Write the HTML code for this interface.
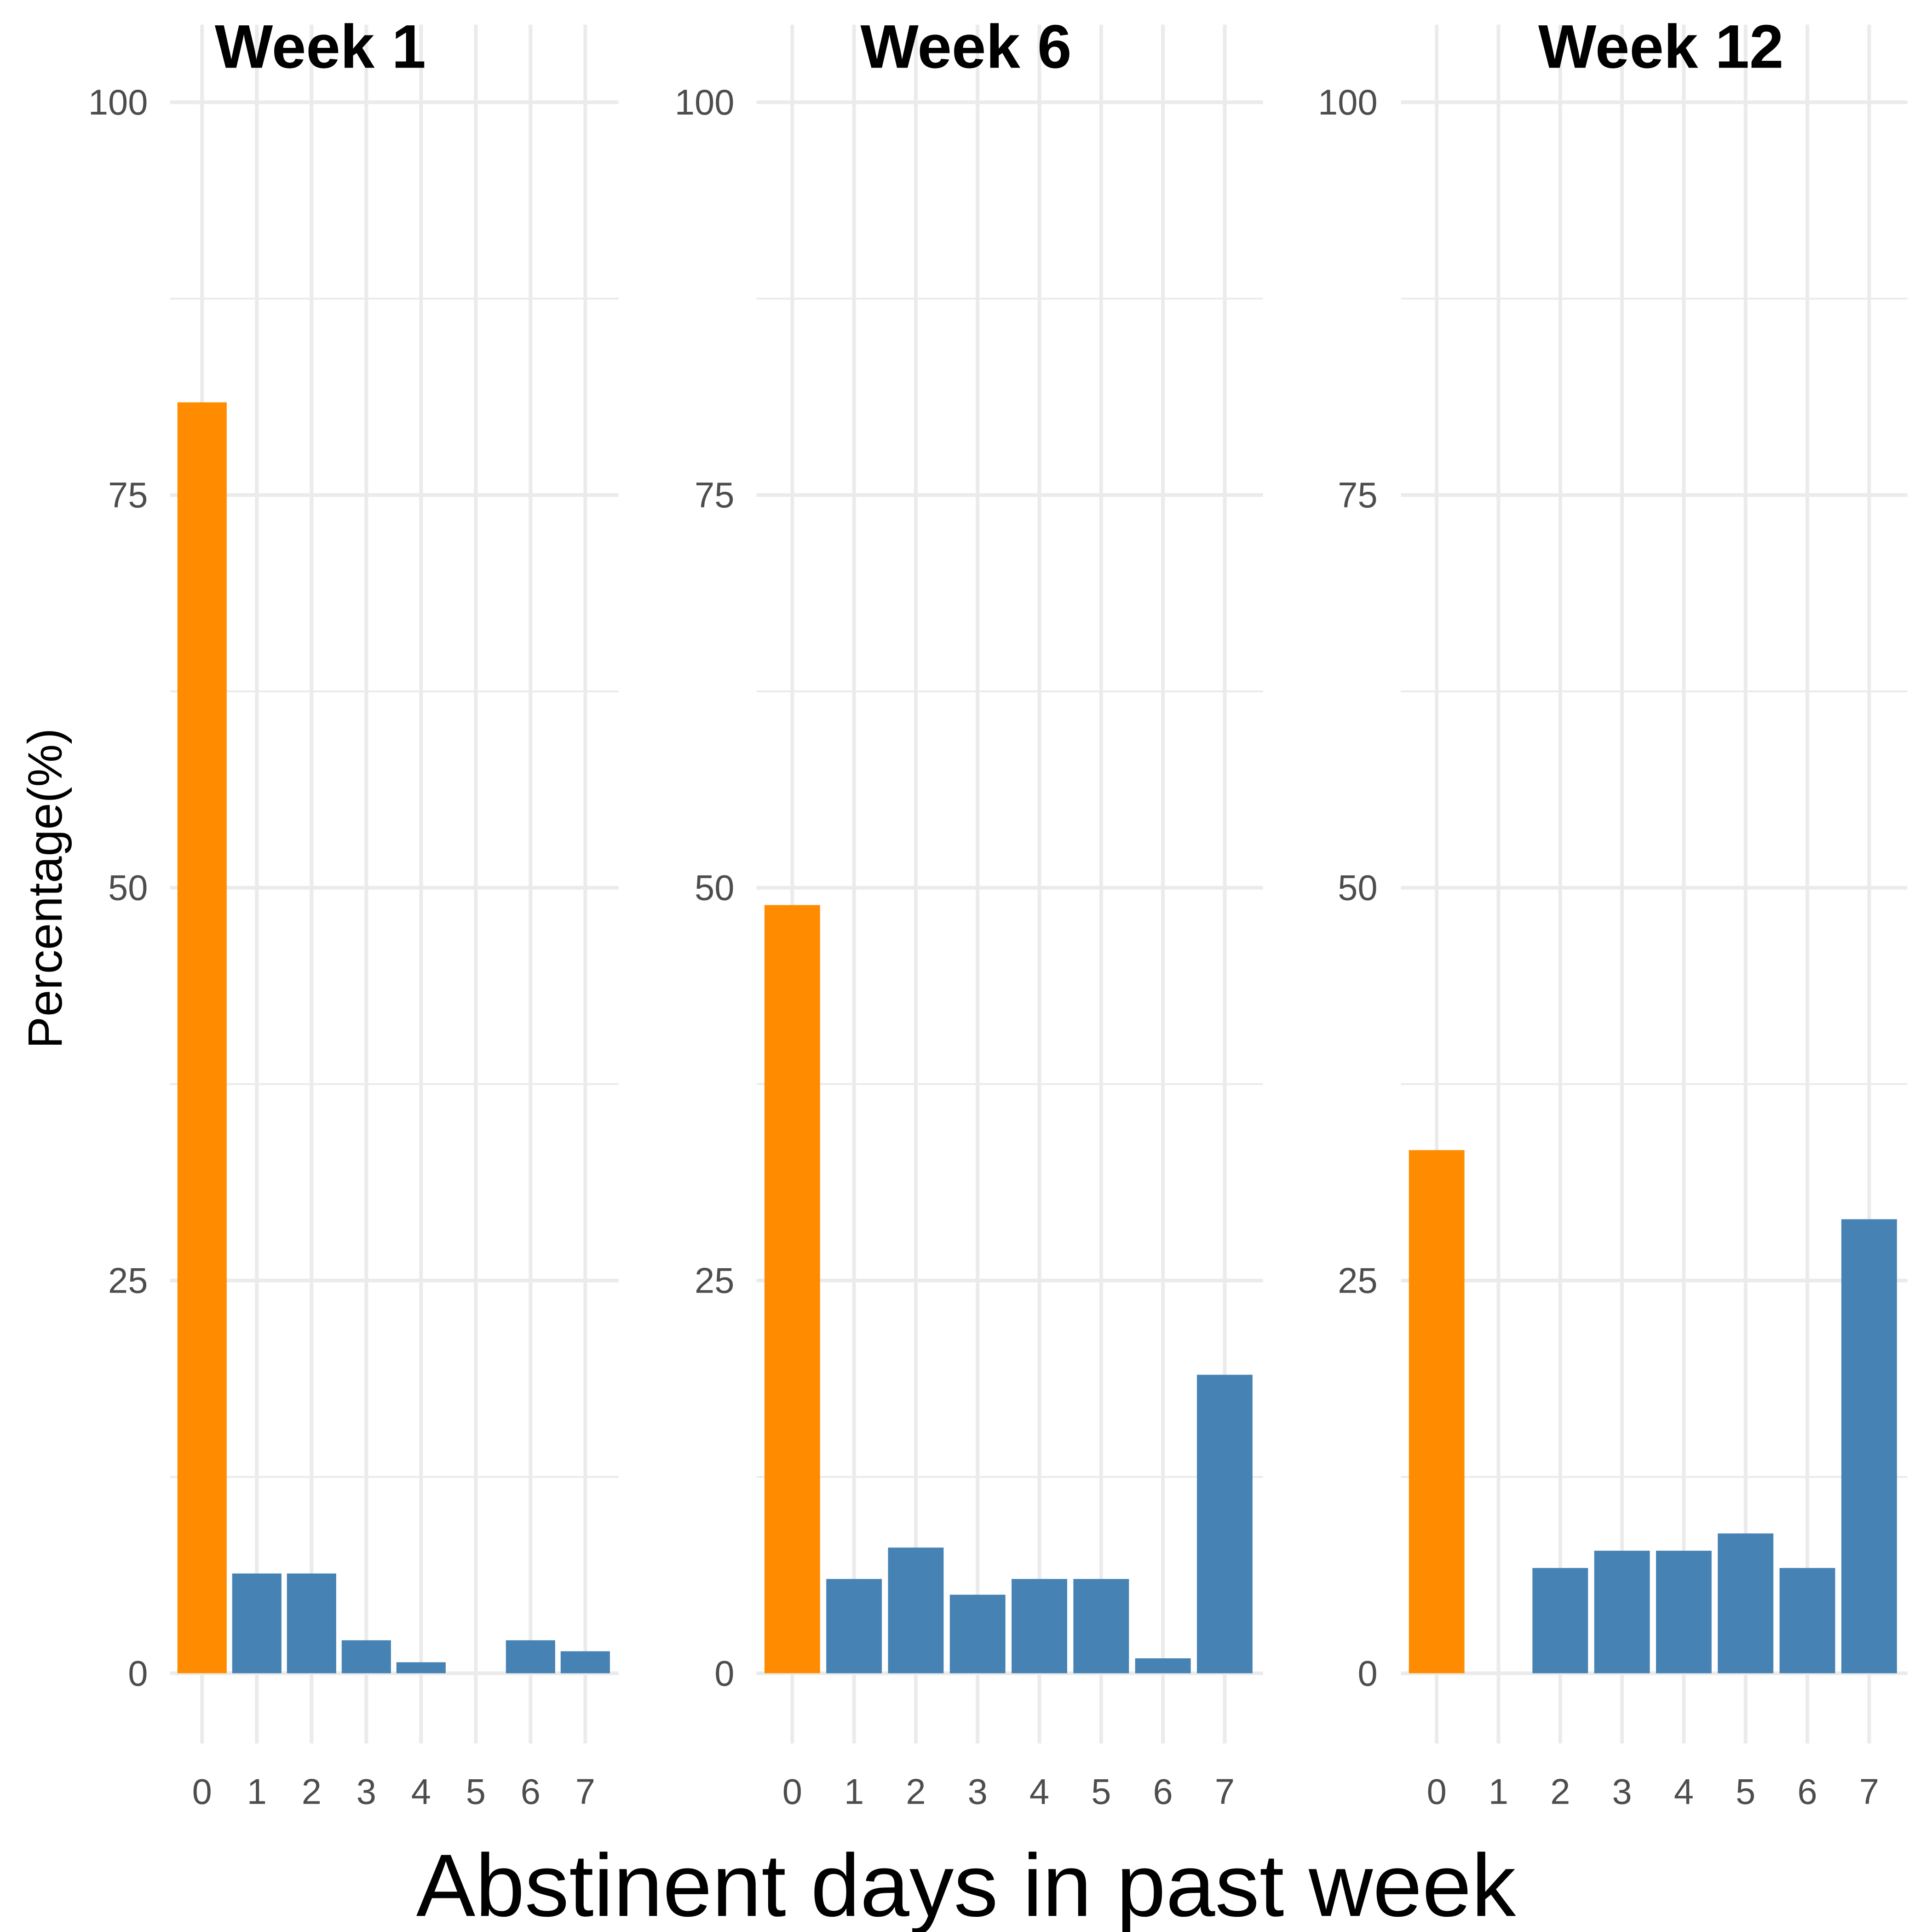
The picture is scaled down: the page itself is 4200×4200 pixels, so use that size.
<!DOCTYPE html>
<html><head><meta charset="utf-8"><style>
html,body{margin:0;padding:0;background:#fff}
svg{display:block}
text{font-family:"Liberation Sans",Arial,sans-serif}
</style></head><body>
<svg id="chart" width="4200" height="4200" viewBox="0 0 1568 1568" xmlns="http://www.w3.org/2000/svg">
<text x="50" y="721" font-size="39" text-anchor="middle" fill="#000" transform="rotate(-90 50 721)">Percentage(%)</text>
<text x="784" y="1555" font-size="72" text-anchor="middle" fill="#000">Abstinent days in past week</text>
<g id="panels"></g>
</svg>
<script>
const categories = [0,1,2,3,4,5,6,7];
const panelTitles = ["Week 1","Week 6","Week 12"];
const week1Values = [80.9,6.35,6.35,2.1,0.7,0,2.1,1.4];
const week6Values = [48.9,6.0,8.0,5.0,6.0,6.0,0.95,19.0];
const week12Values = [33.3,0,6.7,7.8,7.8,8.9,6.7,28.9];
const yTicks = [0,25,50,75,100];
const yMinor = [12.5,37.5,62.5,87.5];

const seriesList = [week1Values, week6Values, week12Values];
const layout = [
  {x0:138, x1:502, c0:164, step:44.43, lab:120, tx:260},
  {x0:614, x1:1025, c0:643, step:50.14, lab:596, tx:784},
  {x0:1137, x1:1548, c0:1166, step:50.14, lab:1118, tx:1348}
];
const yTop = 20, yBot = 1415;
function yScale(v){ return 1358 - v*12.75; }
const NS = "http://www.w3.org/2000/svg";
const root = document.getElementById('panels');
function mk(tag, attrs, parent){
  const e = document.createElementNS(NS, tag);
  for (const k in attrs) e.setAttribute(k, attrs[k]);
  parent.appendChild(e);
  return e;
}
seriesList.forEach((vals, p) => {
  const L = layout[p];
  const xScale = c => L.c0 + categories.indexOf(c)*L.step;
  const g = mk('g', {}, root);
  
  
  yMinor.forEach(t => {
    const l = mk('line', {x1:L.x0, x2:L.x1, y1:yScale(t), y2:yScale(t), stroke:'#ebebeb', 'stroke-width':1.5}, g);
    
    
  });
  yTicks.forEach(t => {
    const l = mk('line', {x1:L.x0, x2:L.x1, y1:yScale(t), y2:yScale(t), stroke:'#ebebeb', 'stroke-width':3}, g);
    
    
    const tx = mk('text', {x:L.lab, y:yScale(t)+10, 'font-size':29, 'text-anchor':'end', fill:'#4d4d4d'}, g);
    tx.textContent = t;
    
    
  });
  categories.forEach(c => {
    const x = xScale(c);
    const l = mk('line', {x1:x, x2:x, y1:yTop, y2:yBot, stroke:'#ebebeb', 'stroke-width':3}, g);
    
    
    const tx = mk('text', {x:x, y:1464, 'font-size':29, 'text-anchor':'middle', fill:'#4d4d4d'}, g);
    tx.textContent = c;
    
    
  });
  categories.forEach((c, i) => {
    const v = vals[i];
    if (v <= 0) return;
    const w = L.step*0.9;
    const r = mk('rect', {x:xScale(c)-w/2, y:yScale(v), width:w, height:yScale(0)-yScale(v), fill: c===0 ? '#ff8c00' : '#4682b4'}, g);
    
    
  });
  const t = mk('text', {x:L.tx, y:55, 'font-size':50, 'font-weight':'bold', 'text-anchor':'middle', fill:'#000'}, g);
  t.textContent = panelTitles[p];
  
  
});
</script>
</body></html>
